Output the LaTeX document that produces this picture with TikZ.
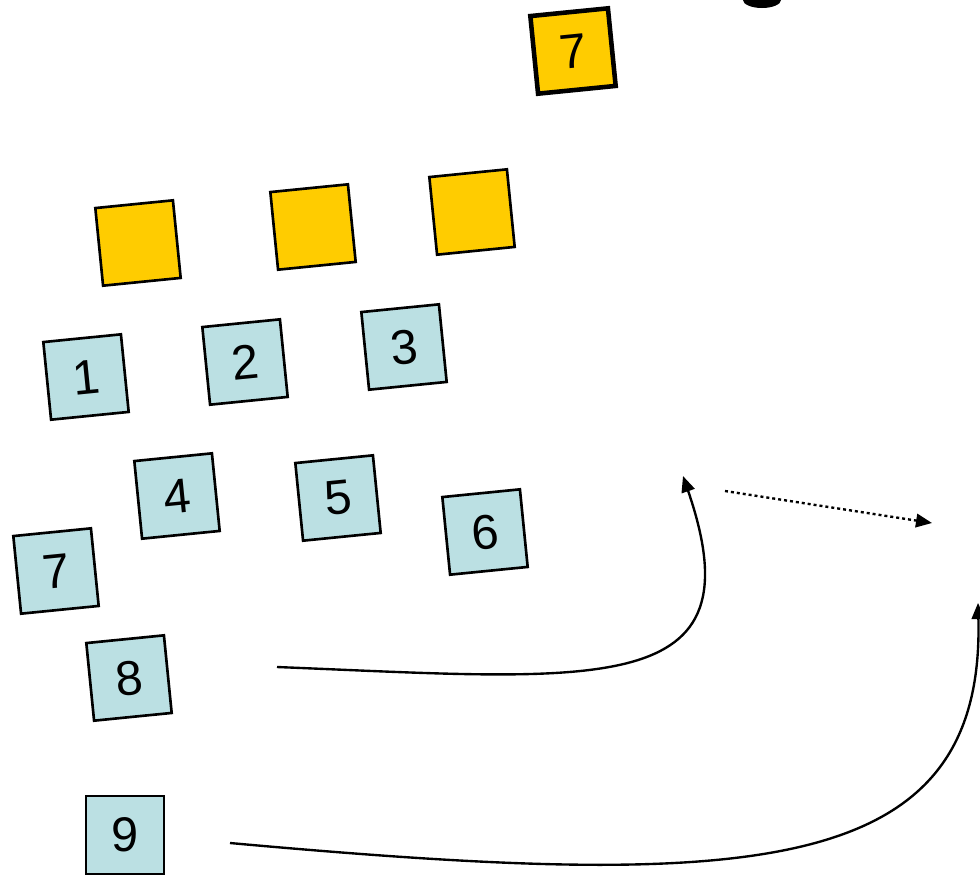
\documentclass[tikz,border=0pt]{standalone}
\usepackage{fontspec}
\setmainfont{Liberation Sans}
\usetikzlibrary{arrows.meta}
\definecolor{gelb}{HTML}{FFCC00}
\definecolor{hellblau}{HTML}{BBE0E3}
\tikzset{
  kasten/.style={draw, line width=1.5pt, minimum size=1.56cm, inner sep=0pt,
    rotate=5.7, font=\fontsize{27.7}{30}\selectfont},
  blaukasten/.style={kasten, fill=hellblau},
  gelbkasten/.style={kasten, fill=gelb},
  pfeil/.style={line width=1.35pt, -{Triangle[length=0.32cm,width=0.27cm]}}
}
\begin{document}
\begin{tikzpicture}[x=0.02cm,y=-0.02cm]
        \useasboundingbox (0,0) rectangle (980,876);

        % Rest eines grossen Buchstabens oben
        \fill (743,0) arc[start angle=180, end angle=0, x radius=19, y radius=8] -- cycle;

        % Oberer Kasten
        \node[gelbkasten, line width=2.6pt] (T) at (573,51) {7};

        % Gelbe Reihe
        \node[gelbkasten] (Y1) at (138,243) {};
        \node[gelbkasten] (Y2) at (313,227) {};
        \node[gelbkasten] (Y3) at (472,212) {};

        % Blaue Kaesten
        \node[blaukasten] (B1) at (86,377) {1};
        \node[blaukasten] (B2) at (245,362) {2};
        \node[blaukasten] (B3) at (404,347) {3};
        \node[blaukasten] (B4) at (177,496) {4};
        \node[blaukasten] (B5) at (338,498) {5};
        \node[blaukasten] (B6) at (485,532) {6};
        \node[blaukasten] (B7) at (56,571) {7};
        \node[blaukasten] (B8) at (129,678) {8};
        \node[blaukasten, rotate=-5.7] (B9) at (125,835) {9};

        % Pfeile
        \coordinate (P1) at (277,667);
        \coordinate (Q1) at (683,476);
        \coordinate (P2) at (725,491);
        \coordinate (Q2) at (932,523);
        \coordinate (P3) at (230,843);
        \coordinate (Q3) at (978,603);

        \draw[pfeil] (P1) .. controls (600,680) and (760,700) .. (Q1);
        \draw[pfeil, dash pattern=on 1.7pt off 1.7pt] (P2) -- (Q2);
        \draw[pfeil] (P3) .. controls (750,890) and (985,880) .. (Q3);
    \end{tikzpicture}
\end{document}
